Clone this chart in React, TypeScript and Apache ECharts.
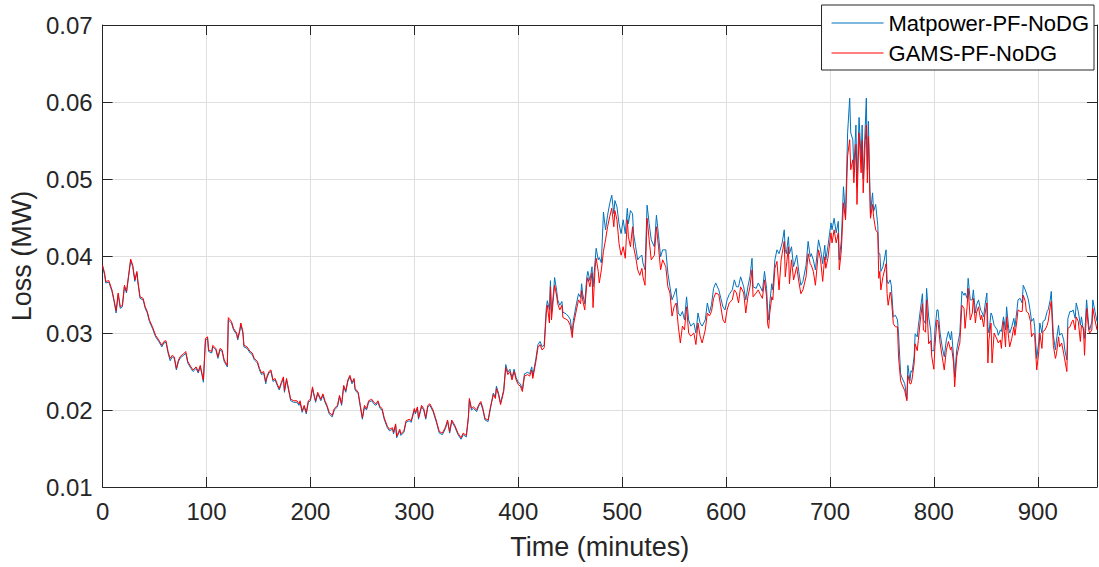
import React, { useEffect, useRef } from "react";
import * as echarts from "echarts";

// time stamps (minutes) of the sampled readings
const timeMin = [
  0, 2, 3, 6, 9, 11, 13, 15, 17, 19,
  21, 23, 25, 27, 29, 31, 33, 34, 36, 39,
  41, 43, 45, 48, 51, 54, 57, 59, 61, 63,
  65, 67, 69, 71, 73, 75, 78, 80, 82, 85,
  87, 90, 92, 94, 96, 97, 99, 101, 102, 105,
  106, 109, 111, 113, 115, 117, 120, 121, 124, 126,
  129, 130, 132, 133, 135, 136, 139, 142, 144, 146,
  149, 151, 153, 155, 157, 158, 160, 162, 164, 166,
  168, 170, 172, 174, 175, 177, 178, 181, 184, 187,
  189, 190, 192, 194, 196, 198, 200, 202, 203, 205,
  207, 210, 212, 214, 216, 218, 221, 223, 226, 228,
  230, 232, 234, 236, 238, 240, 242, 243, 246, 248,
  250, 252, 254, 256, 259, 261, 263, 265, 267, 269,
  271, 274, 276, 279, 280, 282, 283, 286, 287, 290,
  292, 295, 297, 300, 301, 303, 304, 307, 309, 311,
  313, 315, 318, 321, 324, 327, 330, 332, 334, 336,
  339, 342, 345, 347, 350, 352, 353, 355, 357, 360,
  362, 364, 366, 368, 371, 373, 376, 378, 379, 381,
  383, 386, 388, 390, 392, 394, 396, 398, 400, 402,
  404, 406, 409, 411, 413, 414, 417, 419, 421, 423,
  425, 427, 428, 430, 431, 432, 434, 435, 437, 438,
  440, 442, 443, 446, 448, 450, 452, 453, 456, 458,
  460, 461, 462, 464, 466, 467, 469, 471, 472, 474,
  475, 477, 478, 480, 482, 484, 486, 488, 490, 492,
  493, 495, 497, 499, 501, 503, 505, 506, 508, 510,
  511, 513, 515, 517, 519, 520, 522, 524, 526, 528,
  531, 533, 535, 537, 539, 542, 544, 546, 548, 550,
  552, 554, 556, 558, 560, 562, 564, 566, 569, 571,
  573, 575, 577, 580, 582, 584, 586, 588, 590, 593,
  595, 597, 599, 601, 603, 606, 608, 610, 612, 614,
  617, 619, 621, 623, 625, 626, 629, 631, 633, 635,
  637, 639, 640, 641, 642, 644, 645, 647, 649, 651,
  653, 654, 656, 657, 658, 660, 661, 663, 665, 668,
  670, 672, 674, 677, 679, 681, 682, 684, 686, 689,
  691, 693, 695, 696, 698, 701, 702, 704, 706, 708,
  709, 711, 713, 715, 717, 719, 720, 722, 723, 725,
  726, 728, 730, 731, 732, 734, 735, 736, 737, 739,
  741, 742, 744, 746, 747, 748, 749, 751, 754, 755,
  756, 758, 759, 761, 763, 765, 766, 768, 769, 772,
  774, 775, 777, 778, 779, 781, 782, 784, 785, 787,
  789, 790, 792, 793, 795, 797, 798, 800, 801, 803,
  804, 806, 808, 810, 812, 814, 816, 817, 819, 820,
  822, 824, 825, 827, 829, 830, 832, 833, 835, 837,
  838, 840, 841, 843, 845, 846, 848, 849, 851, 852,
  853, 855, 856, 858, 861, 862, 864, 865, 867, 869,
  870, 872, 873, 875, 877, 878, 880, 881, 883, 885,
  886, 888, 889, 891, 893, 894, 896, 897, 899, 901,
  902, 904, 905, 907, 909, 910, 912, 913, 915, 917,
  918, 920, 921, 923, 925, 926, 928, 929, 931, 933,
  934, 936, 937, 939, 941, 942, 944, 945, 947, 949,
  950, 952, 953, 955, 957,
];

// Matpower-PF-NoDG loss (MW)
const matpowerLoss = [
  0.0386, 0.0375, 0.0365, 0.0366, 0.0354, 0.0341, 0.0326, 0.035, 0.0332, 0.0334,
  0.036, 0.0352, 0.0373, 0.0394, 0.0386, 0.0367, 0.0378, 0.0365, 0.0345, 0.0343,
  0.0332, 0.0326, 0.0315, 0.0306, 0.0295, 0.0289, 0.0282, 0.0287, 0.0288, 0.0274,
  0.0264, 0.0269, 0.0267, 0.0252, 0.0263, 0.0268, 0.0271, 0.0274, 0.0261, 0.0254,
  0.025, 0.0254, 0.0248, 0.0256, 0.0243, 0.0236, 0.0291, 0.0293, 0.0276, 0.0274,
  0.0282, 0.0278, 0.0267, 0.0278, 0.0276, 0.0263, 0.0256, 0.0317, 0.0313, 0.0304,
  0.0298, 0.0291, 0.0302, 0.0311, 0.03, 0.0282, 0.028, 0.0274, 0.0272, 0.0265,
  0.0261, 0.0252, 0.0246, 0.0248, 0.0234, 0.0241, 0.0248, 0.025, 0.0237, 0.0239,
  0.0232, 0.0226, 0.0234, 0.0241, 0.0223, 0.0239, 0.0232, 0.0212, 0.021, 0.021,
  0.0206, 0.021, 0.0197, 0.0204, 0.0195, 0.021, 0.0212, 0.0228, 0.0221, 0.021,
  0.0221, 0.0212, 0.0219, 0.021, 0.0204, 0.0195, 0.0191, 0.02, 0.0204, 0.0217,
  0.0206, 0.023, 0.0223, 0.0237, 0.0243, 0.0234, 0.0239, 0.0226, 0.0221, 0.0204,
  0.0188, 0.0204, 0.02, 0.021, 0.0212, 0.0208, 0.0206, 0.021, 0.0202, 0.02,
  0.0188, 0.0177, 0.0173, 0.0175, 0.0169, 0.018, 0.0164, 0.0173, 0.0167, 0.0171,
  0.0184, 0.0186, 0.0184, 0.02, 0.0195, 0.0202, 0.0188, 0.0204, 0.02, 0.0188,
  0.0204, 0.0206, 0.0198, 0.0185, 0.017, 0.0168, 0.0176, 0.0185, 0.017, 0.0185,
  0.0178, 0.0168, 0.0162, 0.0168, 0.0165, 0.0189, 0.0213, 0.02, 0.0202, 0.0198,
  0.0205, 0.0209, 0.02, 0.0187, 0.0185, 0.02, 0.0222, 0.0217, 0.0231, 0.0222,
  0.0209, 0.0226, 0.0259, 0.0249, 0.0253, 0.0242, 0.0253, 0.0242, 0.0236, 0.0234,
  0.0227, 0.0247, 0.0249, 0.0247, 0.0256, 0.0244, 0.0267, 0.0285, 0.0289, 0.0282,
  0.0285, 0.0332, 0.0342, 0.033, 0.0368, 0.0325, 0.0354, 0.0372, 0.0355, 0.0343,
  0.0336, 0.0341, 0.0327, 0.0325, 0.0322, 0.0318, 0.03, 0.0316, 0.0338, 0.0351,
  0.0346, 0.0364, 0.0351, 0.0338, 0.0373, 0.038, 0.0368, 0.0386, 0.036, 0.0394,
  0.041, 0.0395, 0.0398, 0.0391, 0.0457, 0.0434, 0.0453, 0.0468, 0.0479, 0.0455,
  0.0472, 0.0464, 0.0442, 0.0429, 0.0447, 0.0429, 0.0462, 0.0442, 0.0459, 0.0455,
  0.0429, 0.0412, 0.0395, 0.0399, 0.0401, 0.0391, 0.0382, 0.0466, 0.0442, 0.0421,
  0.0412, 0.0453, 0.0427, 0.0399, 0.0408, 0.0408, 0.0378, 0.036, 0.0343, 0.035,
  0.0358, 0.0326, 0.0322, 0.0328, 0.0317, 0.0347, 0.0317, 0.0309, 0.0313, 0.03,
  0.0326, 0.0313, 0.0309, 0.0317, 0.0339, 0.0326, 0.0337, 0.0358, 0.0365, 0.0356,
  0.0345, 0.0334, 0.033, 0.0343, 0.035, 0.0356, 0.0369, 0.036, 0.036, 0.0373,
  0.036, 0.0343, 0.036, 0.0373, 0.0397, 0.036, 0.0358, 0.0365, 0.036, 0.0354,
  0.038, 0.0358, 0.033, 0.0317, 0.0338, 0.0364, 0.0356, 0.0395, 0.0408, 0.0403,
  0.0412, 0.0417, 0.0434, 0.0408, 0.0403, 0.0425, 0.0403, 0.0412, 0.0386, 0.0401,
  0.038, 0.0362, 0.0367, 0.0388, 0.0419, 0.0399, 0.0403, 0.0395, 0.0382, 0.0421,
  0.0408, 0.039, 0.0414, 0.0395, 0.0412, 0.0443, 0.0434, 0.0449, 0.043, 0.0445,
  0.0395, 0.0421, 0.049, 0.0451, 0.056, 0.0605, 0.056, 0.0551, 0.0512, 0.057,
  0.049, 0.058, 0.0525, 0.057, 0.05, 0.057, 0.0605, 0.0512, 0.0575, 0.0455,
  0.0482, 0.0458, 0.0467, 0.044, 0.0403, 0.0403, 0.038, 0.0386, 0.0408, 0.0369,
  0.0364, 0.0369, 0.0362, 0.0321, 0.0323, 0.0317, 0.0299, 0.0247, 0.0243, 0.0234,
  0.0214, 0.0258, 0.0238, 0.0251, 0.0249, 0.0269, 0.0299, 0.0295, 0.0308, 0.033,
  0.0351, 0.0317, 0.0312, 0.0358, 0.0321, 0.0303, 0.0277, 0.0277, 0.0304, 0.033,
  0.033, 0.03, 0.0282, 0.0269, 0.0291, 0.0302, 0.0291, 0.0302, 0.0269, 0.0243,
  0.0278, 0.0293, 0.03, 0.0354, 0.0349, 0.0352, 0.0345, 0.0371, 0.0343, 0.0343,
  0.0356, 0.0326, 0.0336, 0.0343, 0.033, 0.0328, 0.0321, 0.0334, 0.0352, 0.0308,
  0.03, 0.0326, 0.0323, 0.031, 0.0304, 0.0297, 0.0304, 0.0302, 0.0321, 0.0304,
  0.0334, 0.0306, 0.03, 0.0308, 0.0319, 0.0308, 0.033, 0.0343, 0.0345, 0.0339,
  0.0362, 0.0356, 0.0352, 0.0343, 0.0326, 0.0315, 0.0319, 0.0308, 0.0267, 0.0289,
  0.0313, 0.03, 0.0315, 0.0317, 0.0328, 0.033, 0.0343, 0.0354, 0.0297, 0.0278,
  0.0291, 0.031, 0.0297, 0.03, 0.0291, 0.0278, 0.0265, 0.0319, 0.0328, 0.0328,
  0.033, 0.0319, 0.0339, 0.0328, 0.031, 0.0321, 0.0302, 0.0293, 0.0343, 0.031,
  0.0304, 0.0315, 0.0343, 0.0328, 0.0315,
];

// GAMS-PF-NoDG loss (MW)
const gamsLoss = [
  0.0388, 0.0377, 0.0367, 0.0368, 0.0356, 0.0343, 0.0329, 0.0352, 0.0334, 0.0336,
  0.0362, 0.0354, 0.0375, 0.0396, 0.0388, 0.0369, 0.038, 0.0367, 0.0347, 0.0345,
  0.0334, 0.0328, 0.0317, 0.0308, 0.0297, 0.0291, 0.0284, 0.0289, 0.029, 0.0276,
  0.0267, 0.0271, 0.0269, 0.0254, 0.0265, 0.027, 0.0273, 0.0276, 0.0263, 0.0256,
  0.0252, 0.0256, 0.025, 0.0258, 0.0245, 0.0239, 0.0293, 0.0295, 0.0278, 0.0276,
  0.0284, 0.028, 0.0269, 0.028, 0.0278, 0.0265, 0.0258, 0.032, 0.0315, 0.0306,
  0.03, 0.0293, 0.0304, 0.0313, 0.0302, 0.0284, 0.0282, 0.0276, 0.0274, 0.0267,
  0.0263, 0.0254, 0.0248, 0.025, 0.0237, 0.0243, 0.025, 0.0252, 0.0239, 0.0241,
  0.0234, 0.0228, 0.0236, 0.0243, 0.0225, 0.0241, 0.0234, 0.0214, 0.0212, 0.0212,
  0.0208, 0.0212, 0.0199, 0.0206, 0.0197, 0.0212, 0.0214, 0.023, 0.0223, 0.0212,
  0.0223, 0.0214, 0.0221, 0.0212, 0.0206, 0.0197, 0.0193, 0.0202, 0.0206, 0.0219,
  0.0208, 0.0232, 0.0225, 0.0239, 0.0245, 0.0236, 0.0241, 0.0228, 0.0223, 0.0206,
  0.019, 0.0206, 0.0202, 0.0212, 0.0214, 0.021, 0.0208, 0.0212, 0.0204, 0.0202,
  0.019, 0.0179, 0.0175, 0.0177, 0.0171, 0.0182, 0.0166, 0.0175, 0.0169, 0.0173,
  0.0186, 0.0188, 0.0186, 0.0202, 0.0197, 0.0204, 0.019, 0.0206, 0.0202, 0.019,
  0.0206, 0.0208, 0.02, 0.0187, 0.0172, 0.017, 0.0178, 0.0187, 0.0172, 0.0187,
  0.018, 0.017, 0.0164, 0.017, 0.0167, 0.0191, 0.0215, 0.0202, 0.0204, 0.02,
  0.0207, 0.0211, 0.0202, 0.0189, 0.0187, 0.0202, 0.022, 0.0215, 0.0228, 0.022,
  0.0207, 0.0224, 0.0255, 0.0246, 0.025, 0.0239, 0.025, 0.0239, 0.0233, 0.0231,
  0.0224, 0.0244, 0.0246, 0.0244, 0.0252, 0.0241, 0.0263, 0.0281, 0.0285, 0.0278,
  0.0281, 0.0326, 0.0336, 0.0313, 0.036, 0.0317, 0.0348, 0.0362, 0.0348, 0.0338,
  0.033, 0.0336, 0.032, 0.0318, 0.0316, 0.031, 0.0294, 0.031, 0.033, 0.0343,
  0.0338, 0.0355, 0.0343, 0.033, 0.0365, 0.0372, 0.036, 0.0378, 0.0333, 0.0385,
  0.0397, 0.038, 0.0365, 0.0382, 0.0406, 0.0421, 0.0438, 0.0451, 0.0462, 0.0438,
  0.0459, 0.0447, 0.0416, 0.0401, 0.0412, 0.0397, 0.0447, 0.0425, 0.0412, 0.0438,
  0.0412, 0.0399, 0.0382, 0.0375, 0.0384, 0.0373, 0.0362, 0.0449, 0.0421, 0.0395,
  0.0401, 0.0438, 0.0412, 0.0382, 0.0395, 0.0386, 0.036, 0.0352, 0.0322, 0.0334,
  0.0339, 0.0309, 0.0287, 0.0309, 0.0304, 0.0334, 0.03, 0.0296, 0.03, 0.0285,
  0.0313, 0.0296, 0.0287, 0.0304, 0.0326, 0.0322, 0.0328, 0.0345, 0.0352, 0.035,
  0.0334, 0.0317, 0.0313, 0.033, 0.0339, 0.0343, 0.0356, 0.0352, 0.0339, 0.036,
  0.0352, 0.0326, 0.0347, 0.036, 0.0382, 0.0347, 0.0352, 0.0356, 0.035, 0.0345,
  0.0369, 0.0347, 0.0312, 0.0306, 0.0325, 0.0347, 0.0343, 0.0384, 0.0393, 0.0356,
  0.0395, 0.0403, 0.0419, 0.0373, 0.0386, 0.0412, 0.0364, 0.0395, 0.0369, 0.0386,
  0.0367, 0.0351, 0.0356, 0.0373, 0.0403, 0.039, 0.0388, 0.038, 0.0362, 0.0408,
  0.0395, 0.0367, 0.0399, 0.0384, 0.0397, 0.043, 0.0417, 0.0434, 0.0417, 0.043,
  0.0382, 0.0408, 0.0469, 0.0447, 0.053, 0.0551, 0.0512, 0.0525, 0.0495, 0.0545,
  0.0467, 0.056, 0.0508, 0.055, 0.0482, 0.055, 0.057, 0.0495, 0.0555, 0.0449,
  0.0467, 0.0451, 0.0434, 0.043, 0.0371, 0.038, 0.0356, 0.0373, 0.039, 0.0351,
  0.0336, 0.0353, 0.0347, 0.0312, 0.0308, 0.0308, 0.0269, 0.0238, 0.0234, 0.0225,
  0.0212, 0.0245, 0.0234, 0.0234, 0.024, 0.026, 0.0286, 0.0277, 0.029, 0.0317,
  0.0338, 0.0304, 0.0301, 0.0343, 0.0286, 0.029, 0.0269, 0.0253, 0.0282, 0.0317,
  0.0315, 0.0287, 0.0269, 0.0252, 0.0278, 0.0289, 0.0278, 0.0282, 0.0261, 0.023,
  0.0269, 0.0282, 0.0287, 0.0336, 0.0332, 0.0306, 0.0334, 0.0358, 0.0317, 0.0326,
  0.0345, 0.0313, 0.0326, 0.0334, 0.0317, 0.0323, 0.0308, 0.0323, 0.0339, 0.0261,
  0.0291, 0.0313, 0.0261, 0.03, 0.0291, 0.0287, 0.0291, 0.028, 0.0315, 0.0282,
  0.0321, 0.0293, 0.0282, 0.0293, 0.0308, 0.0297, 0.0317, 0.033, 0.0328, 0.0328,
  0.0349, 0.0341, 0.0328, 0.0326, 0.0315, 0.0295, 0.03, 0.0297, 0.0252, 0.0276,
  0.03, 0.028, 0.0302, 0.0304, 0.031, 0.0315, 0.0334, 0.0341, 0.0284, 0.0267,
  0.0273, 0.0295, 0.0282, 0.0287, 0.0273, 0.0265, 0.025, 0.0306, 0.0308, 0.0315,
  0.0317, 0.0304, 0.0321, 0.0315, 0.0289, 0.031, 0.0306, 0.0271, 0.0332, 0.0304,
  0.03, 0.0304, 0.0332, 0.0317, 0.0304,
];

const seriesNames = ["Matpower-PF-NoDG", "GAMS-PF-NoDG"];
const seriesColors = ["#0072BD", "#FF0000"];

const FONT = "'Liberation Sans', Arial, Helvetica, sans-serif";
const AXIS_COLOR = "#262626";

export default function App() {
  const ref = useRef<HTMLDivElement>(null);

  useEffect(() => {
    if (!ref.current) return;
    const chart = echarts.init(ref.current, null, { renderer: "svg" });

    const xBase = {
      type: "value" as const,
      min: 0,
      max: 957,
      interval: 100,
      axisLine: { show: true, onZero: false, lineStyle: { color: AXIS_COLOR, width: 1 } },
      axisTick: { show: true, inside: true, length: 10, lineStyle: { color: AXIS_COLOR, width: 1 } },
    };
    const yBase = {
      type: "value" as const,
      min: 0.01,
      max: 0.07,
      interval: 0.01,
      axisLine: { show: true, onZero: false, lineStyle: { color: AXIS_COLOR, width: 1 } },
      axisTick: { show: true, inside: true, length: 10, lineStyle: { color: AXIS_COLOR, width: 1 } },
    };

    const seriesData = [matpowerLoss, gamsLoss].map((vals) =>
      timeMin.map((t, i) => [t, vals[i]])
    );

    chart.setOption({
      animation: false,
      backgroundColor: "#ffffff",
      grid: { left: 100, right: 2, top: 25, bottom: 80, containLabel: false },
      legend: {
        orient: "vertical",
        right: 5,
        top: 5,
        backgroundColor: "#ffffff",
        borderColor: AXIS_COLOR,
        borderWidth: 1,
        borderRadius: 0,
        padding: [7, 5, 6, 10],
        itemGap: 8,
        itemWidth: 52,
        itemHeight: 1.2,
        icon: "rect",
        textStyle: { fontSize: 22, color: "#000000", fontFamily: FONT, lineHeight: 22 },
        data: seriesNames,
      },
      xAxis: [
        {
          ...xBase,
          position: "bottom",
          axisLabel: { show: true, color: AXIS_COLOR, fontSize: 24, fontFamily: FONT, margin: 12, showMaxLabel: false },
          splitLine: { show: true, lineStyle: { color: "#dfdfdf", width: 1 } },
          name: "Time (minutes)",
          nameLocation: "middle",
          nameGap: 46,
          nameTextStyle: { color: AXIS_COLOR, fontSize: 27, fontFamily: FONT },
        },
        {
          ...xBase,
          position: "top",
          axisLabel: { show: false },
          splitLine: { show: false },
        },
      ],
      yAxis: [
        {
          ...yBase,
          position: "left",
          axisLabel: {
            show: true,
            color: AXIS_COLOR,
            fontSize: 24,
            fontFamily: FONT,
            margin: 10,
            formatter: (v: number) => v.toFixed(2),
          },
          splitLine: { show: true, lineStyle: { color: "#dfdfdf", width: 1 } },
          name: "Loss (MW)",
          nameLocation: "middle",
          nameGap: 62,
          nameRotate: 90,
          nameTextStyle: { color: AXIS_COLOR, fontSize: 27, fontFamily: FONT },
        },
        {
          ...yBase,
          position: "right",
          axisLabel: { show: false },
          splitLine: { show: false },
        },
      ],
      series: seriesNames.map((name, k) => ({
        name,
        type: "line",
        xAxisIndex: 0,
        yAxisIndex: 0,
        data: seriesData[k],
        symbol: "none",
        showSymbol: false,
        clip: true,
        z: 2 + k,
        lineStyle: { color: seriesColors[k], width: 1 },
        itemStyle: { color: seriesColors[k] },
      })),
    });

    return () => chart.dispose();
  }, []);

  return (
    <div
      ref={ref}
      style={{ position: "fixed", left: 0, top: 0, width: 1099, height: 567, background: "#ffffff" }}
    />
  );
}
